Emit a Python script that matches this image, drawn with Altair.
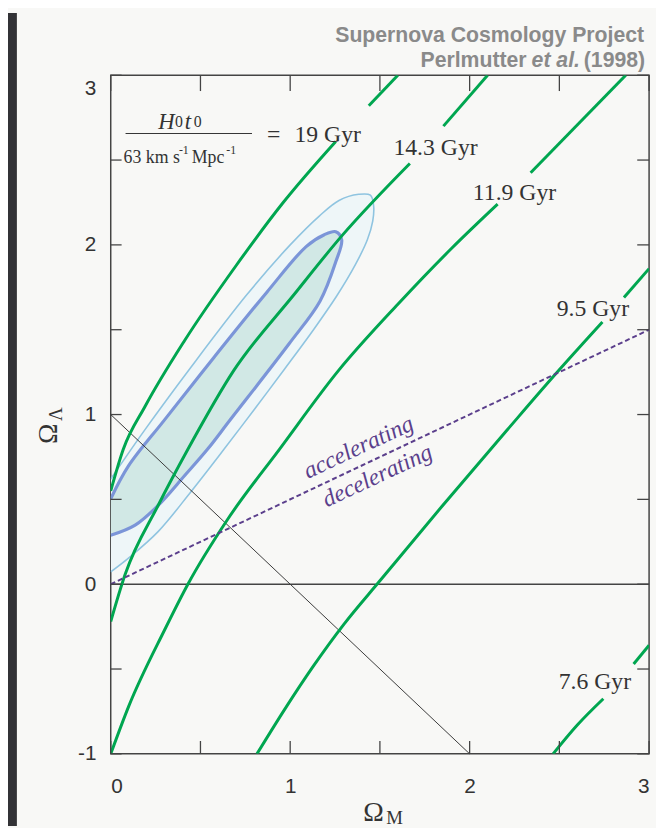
import altair as alt
import pandas as pd

W, H = 545, 687
PAD = {"left": 104, "top": 63, "right": 7, "bottom": 70}
OX, OY = 112, 71  # page position of plot origin (for annotation placement)

# ---------------- data ----------------
x_tick_values = [0, 0.5, 1, 1.5, 2, 2.5, 3]
y_tick_values = [-1, -0.5, 0, 0.5, 1, 1.5, 2, 2.5, 3]
x_label_values = [0, 1, 2, 3]
y_label_values = [-1, 0, 1, 2, 3]

# constant-age curves (each split where the label sits)
age19_1_x = [0, 0.07, 0.191, 0.411, 0.70, 0.961, 1.254]
age19_1_y = [0.55, 0.795, 1.047, 1.435, 1.88, 2.25, 2.61]
age19_2_x = [1.438, 1.60]
age19_2_y = [2.82, 3.0]

age143_1_x = [0, 0.08, 0.264, 0.43, 0.686, 1.016, 1.29, 1.667]
age143_1_y = [-0.22, 0.057, 0.464, 0.795, 1.26, 1.70, 2.056, 2.48]
age143_2_x = [1.854, 2.10]
age143_2_y = [2.70, 3.0]

age119_1_x = [0, 0.1, 0.3, 0.43, 0.65, 0.94, 1.27, 1.60, 1.90, 2.156]
age119_1_y = [-1.0, -0.72, -0.27, 0.0, 0.38, 0.795, 1.26, 1.65, 1.98, 2.24]
age119_2_x = [2.34, 2.87]
age119_2_y = [2.425, 3.0]

age95_1_x = [0.815, 0.98, 1.127, 1.30, 1.50, 1.845, 2.21, 2.48, 2.74]
age95_1_y = [-1.0, -0.72, -0.486, -0.235, 0.02, 0.458, 0.91, 1.24, 1.545]
age95_2_x = [2.86, 3.0]
age95_2_y = [1.69, 1.86]

age76_1_x = [2.465, 2.60, 2.745]
age76_1_y = [-1.0, -0.83, -0.675]
age76_2_x = [2.914, 3.0]
age76_2_y = [-0.47, -0.36]

# confidence regions (outline traced clockwise, clipped at the left axis)
outer_x = [0, 0.191, 0.447, 0.759, 1.0, 1.162, 1.272, 1.382, 1.447, 1.465,
           1.46, 1.43, 1.364, 1.26, 1.13, 0.97, 0.80, 0.631, 0.447, 0.264, 0.099, 0]
outer_y = [0.62, 0.911, 1.279, 1.707, 2.0, 2.17, 2.262, 2.298, 2.293, 2.230,
           2.14, 2.03, 1.885, 1.70, 1.50, 1.27, 1.03, 0.795, 0.545, 0.31, 0.154, 0.073]
inner_x = [0, 0.099, 0.301, 0.576, 0.869, 1.089, 1.19, 1.254, 1.287,
           1.254, 1.166, 0.996, 0.666, 0.539, 0.411, 0.264, 0.136, 0]
inner_y = [0.503, 0.697, 0.97, 1.338, 1.72, 1.99, 2.06, 2.078, 2.03,
           1.90, 1.668, 1.42, 0.969, 0.795, 0.639, 0.464, 0.348, 0.288]

# reference lines
zero_x, zero_y = [0, 3], [0, 0]
flat_x, flat_y = [0, 2], [1, -1]
accel_x, accel_y = [0, 3], [0, 1.5]

# age labels
age_labels = ["14.3 Gyr", "11.9 Gyr", "9.5 Gyr", "7.6 Gyr"]
age_label_x = [1.81, 2.25, 2.687, 2.698]
age_label_y = [2.529, 2.267, 1.580, -0.62]

# ---------------- styling ----------------
BG = "#f8f8f6"
GREEN = "#00a650"
PURPLE = "#5b3f8c"
FRAME = "#444444"
SERIF = "Liberation Serif"
SANS = "Liberation Sans"

xs = alt.Scale(domain=[0, 3], nice=False, zero=False)
ys = alt.Scale(domain=[-1, 3], nice=False, zero=False)
xaxis = alt.Axis(values=x_label_values, labelExpr="'' + datum.value", ticks=False, domain=False,
                 grid=False, labelPadding=22, labelFont=SANS, labelFontSize=21, labelColor="#333333",
                 title=None)
yaxis = alt.Axis(values=y_label_values, labelExpr="'' + datum.value", ticks=False, domain=False,
                 grid=False, labelPadding=15, labelFont=SANS, labelFontSize=21, labelColor="#333333",
                 labelOffset={"condition": {"test": "datum.value == 3", "value": 14}, "value": 0},
                 title=None)
X = lambda f: alt.X(f, scale=xs, axis=xaxis)
Y = lambda f: alt.Y(f, scale=ys, axis=yaxis)

one = pd.DataFrame({"a": [0]})


def seg_df(parts):
    rows = []
    for name, xs_, ys_ in parts:
        for i, (a, b) in enumerate(zip(xs_, ys_)):
            rows.append({"x": a, "y": b, "seg": name, "i": i})
    return pd.DataFrame(rows)


green_df = seg_df([
    ("a19_1", age19_1_x, age19_1_y), ("a19_2", age19_2_x, age19_2_y),
    ("a143_1", age143_1_x, age143_1_y), ("a143_2", age143_2_x, age143_2_y),
    ("a119_1", age119_1_x, age119_1_y), ("a119_2", age119_2_x, age119_2_y),
    ("a95_1", age95_1_x, age95_1_y), ("a95_2", age95_2_x, age95_2_y),
    ("a76_1", age76_1_x, age76_1_y), ("a76_2", age76_2_x, age76_2_y),
])
outer_df = seg_df([("outer", outer_x, outer_y)])
inner_df = seg_df([("inner", inner_x, inner_y)])
zero_df = seg_df([("zero", zero_x, zero_y)])
flat_df = seg_df([("flat", flat_x, flat_y)])
accel_df = seg_df([("acc", accel_x, accel_y)])
label_df = pd.DataFrame({"x": age_label_x, "y": age_label_y, "t": age_labels})
xt_df = pd.DataFrame({"v": x_tick_values})
yt_df = pd.DataFrame({"v": y_tick_values})


def ptext(text, px, py, **kw):
    return alt.Chart(one).mark_text(text=text, **kw).encode(
        x=alt.value(px - OX), y=alt.value(py - OY))


layers = []
# dark frame strip at the left edge of the picture
layers.append(alt.Chart(one).mark_rect(color="#323236").encode(
    x=alt.value(-104), x2=alt.value(-95), y=alt.value(-63), y2=alt.value(H + 73)))

# confidence regions
layers.append(alt.Chart(outer_df).mark_line(fill="#eef6f8", stroke="#8fc4e0", strokeWidth=1.6, clip=True,
                                            interpolate="catmull-rom").encode(
    x=X("x:Q"), y=Y("y:Q"), order="i:Q"))
layers.append(alt.Chart(inner_df).mark_line(fill="#d1e8e5", stroke="#7b95d8", strokeWidth=3.2, clip=True,
                                            interpolate="catmull-rom").encode(
    x=X("x:Q"), y=Y("y:Q"), order="i:Q"))

# reference lines
layers.append(alt.Chart(zero_df).mark_line(color=FRAME, strokeWidth=1.5).encode(
    x=X("x:Q"), y=Y("y:Q"), order="i:Q"))
layers.append(alt.Chart(flat_df).mark_line(color="#3a3a3a", strokeWidth=1).encode(
    x=X("x:Q"), y=Y("y:Q"), order="i:Q"))

# constant-age curves
layers.append(alt.Chart(green_df).mark_line(color=GREEN, strokeWidth=3, clip=True,
                                            interpolate="monotone").encode(
    x=X("x:Q"), y=Y("y:Q"), detail="seg:N", order="i:Q"))

# accelerating / decelerating boundary
layers.append(alt.Chart(accel_df).mark_line(color=PURPLE, strokeWidth=2, strokeDash=[5, 3]).encode(
    x=X("x:Q"), y=Y("y:Q"), order="i:Q"))

# ticks (inward, on all four sides)
TK = "#444444"
layers.append(alt.Chart(xt_df).mark_rule(color=TK, strokeWidth=1.3).encode(
    x=X("v:Q"), y=alt.value(H), y2=alt.value(H - 13)))
layers.append(alt.Chart(xt_df).mark_rule(color=TK, strokeWidth=1.3).encode(
    x=X("v:Q"), y=alt.value(0), y2=alt.value(16)))
layers.append(alt.Chart(yt_df).mark_rule(color=TK, strokeWidth=1.3).encode(
    y=Y("v:Q"), x=alt.value(0), x2=alt.value(11)))
layers.append(alt.Chart(yt_df).mark_rule(color=TK, strokeWidth=1.3).encode(
    y=Y("v:Q"), x=alt.value(W), x2=alt.value(W - 12)))

# age labels
layers.append(alt.Chart(label_df).mark_text(font=SERIF, fontSize=24, color="#333333", align="center",
                                            baseline="alphabetic").encode(
    x=X("x:Q"), y=Y("y:Q"), text="t:N"))

# accelerating / decelerating text
layers.append(ptext("accelerating", 363, 448, font=SERIF, fontSize=24, fontStyle="italic", color=PURPLE,
                    angle=335, align="center", baseline="middle"))
layers.append(ptext("decelerating", 382, 477, font=SERIF, fontSize=24, fontStyle="italic", color=PURPLE,
                    angle=335, align="center", baseline="middle"))

# H0 t0 / (63 km s-1 Mpc-1) = 19 Gyr
TXT = "#333333"
layers.append(ptext("H", 160, 118, font=SERIF, fontSize=23, fontStyle="italic", color=TXT, align="left"))
layers.append(ptext("0", 177, 118, font=SERIF, fontSize=16, color=TXT, align="left"))
layers.append(ptext("t", 187, 118, font=SERIF, fontSize=23, fontStyle="italic", color=TXT, align="left"))
layers.append(ptext("0", 196, 118, font=SERIF, fontSize=16, color=TXT, align="left"))
layers.append(alt.Chart(one).mark_rule(color=TXT, strokeWidth=1).encode(
    x=alt.value(127 - OX), x2=alt.value(255 - OX), y=alt.value(130 - OY)))
layers.append(ptext("63 km s", 125, 155, font=SERIF, fontSize=18, color=TXT, align="left"))
layers.append(ptext("-1", 181, 147, font=SERIF, fontSize=12, color=TXT, align="left"))
layers.append(ptext("Mpc", 194, 155, font=SERIF, fontSize=18, color=TXT, align="left"))
layers.append(ptext("-1", 229, 147, font=SERIF, fontSize=12, color=TXT, align="left"))
layers.append(ptext("=", 277, 132, font=SERIF, fontSize=24, color=TXT, align="center"))
layers.append(ptext("19 Gyr", 298, 132, font=SERIF, fontSize=24, color=TXT, align="left"))

# axis titles
layers.append(ptext("Ω", 378, 818, font=SERIF, fontSize=28, color=TXT, align="center"))
layers.append(ptext("M", 391, 823, font=SERIF, fontSize=19, color=TXT, align="left"))
layers.append(ptext("Ω", 50, 434, font=SERIF, fontSize=28, color=TXT, align="center", angle=270))
layers.append(ptext("Λ", 57, 421, font=SERIF, fontSize=19, color=TXT, align="left", angle=270))

# header
HG = "#8a8a8a"
layers.append(ptext("Supernova Cosmology Project", 652, 31, font=SANS, fontSize=21.5, fontWeight="bold",
                    color=HG, align="right"))
layers.append(ptext("Perlmutter", 533, 57, font=SANS, fontSize=21.5, fontWeight="bold", color=HG, align="right"))
layers.append(ptext("et al.", 587, 57, font=SANS, fontSize=21.5, fontWeight="bold", fontStyle="italic",
                    color=HG, align="right"))
layers.append(ptext("(1998)", 653, 57, font=SANS, fontSize=21.5, fontWeight="bold", color=HG, align="right"))

chart = alt.layer(*layers).properties(
    width=W, height=H, padding=PAD, autosize=alt.AutoSizeParams(type="none"), background=BG
).configure_view(stroke=FRAME, strokeWidth=1.5)

chart.save("out.html", embed_options={"renderer": "svg", "actions": False})
